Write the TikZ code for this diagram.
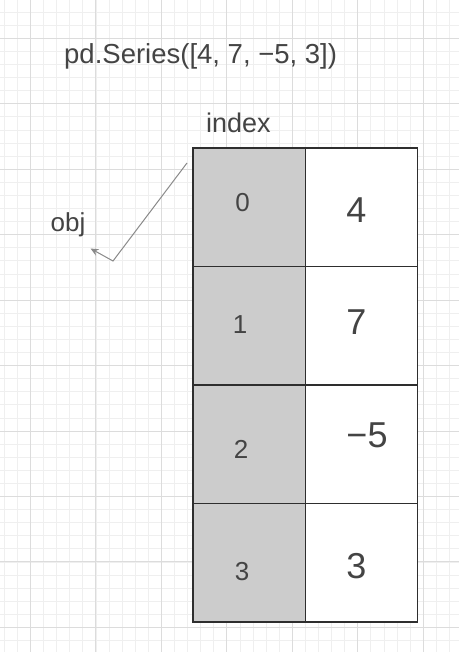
\documentclass[tikz,border=0pt]{standalone}
\usepackage{fontspec}
\setmainfont{Liberation Sans}
\usetikzlibrary{arrows.meta}
\definecolor{txt}{HTML}{444444}
\definecolor{gridminor}{HTML}{EFEFEF}
\definecolor{gridmajor}{HTML}{DCDCDC}
\definecolor{cellgray}{HTML}{CCCCCC}
\definecolor{cellline}{HTML}{2E2E2E}
\definecolor{arrowgray}{HTML}{8A8A8A}
\tikzset{
  minorline/.style={draw=gridminor, line width=0.8pt},
  majorline/.style={draw=gridmajor, line width=1pt},
  cell/.style={minimum width=112.5pt, minimum height=118.5pt, inner sep=0pt, outer sep=0pt},
  idxcell/.style={cell, fill=cellgray},
  valcell/.style={cell, fill=white},
  border/.style={draw=cellline, line width=1.4pt},
  lbl/.style={text=txt, inner sep=0pt, font=\fontsize{27.5}{32}\selectfont},
  idxnum/.style={text=txt, inner sep=0pt, font=\fontsize{26}{30}\selectfont},
  valnum/.style={text=txt, inner sep=0pt, font=\fontsize{36}{40}\selectfont},
  pointer/.style={draw=arrowgray, line width=1pt, -{Stealth[length=8pt,width=7pt]}}
}
\begin{document}
\begin{tikzpicture}[x=1pt,y=-1pt]
\useasboundingbox (0,0) rectangle (459,652);
\fill[white] (0,0) rectangle (459,652);
% grid
\foreach \i in {-3,...,33} {
  \draw[minorline] ({30.5+13.09*\i},0) -- ++(0,652);
}
\foreach \i in {-3,...,47} {
  \draw[minorline] (0,{38.3+13.09*\i}) -- ++(459,0);
}
\foreach \i in {-1,...,6} {
  \draw[majorline] ({30.5+65.45*\i},0) -- ++(0,652);
}
\foreach \i in {-1,...,9} {
  \draw[majorline] (0,{38.3+65.45*\i}) -- ++(459,0);
}
% title and labels
\node[lbl, anchor=base west] (title) at (64,63.3) {pd.Series([4, 7, −5, 3])};
\node[lbl, anchor=base west, font=\fontsize{27}{32}\selectfont] (index) at (206,132.3) {index};
\node[lbl, anchor=base west, font=\fontsize{26}{30}\selectfont] (obj) at (50.5,231) {obj};
% cells
\node[idxcell] (i0) at (249.25,207.25) {};
\node[idxcell] (i1) at (249.25,325.75) {};
\node[idxcell] (i2) at (249.25,444.25) {};
\node[idxcell] (i3) at (249.25,562.75) {};
\node[valcell] (v0) at (361.5,207.25) {};
\node[valcell] (v1) at (361.5,325.75) {};
\node[valcell] (v2) at (361.5,444.25) {};
\node[valcell] (v3) at (361.5,562.75) {};
\foreach \c in {i0,i1,i2,i3,v0,v1,v2,v3} {
  \draw[border] (\c.north west) rectangle (\c.south east);
}
% cell texts
\node[idxnum] (t0) at (242.5,203) {0};
\node[idxnum] (t1) at (240,325) {1};
\node[idxnum] (t2) at (241,449) {2};
\node[idxnum] (t3) at (242,571.7) {3};
\node[valnum] (w0) at (356.5,210) {4};
\node[valnum] (w1) at (356.5,322) {7};
\node[valnum] (w2) at (367,435) {−5};
\node[valnum] (w3) at (356.5,566) {3};
% pointer
\coordinate (pstart) at (187,163);
\coordinate (pbend) at (113,261);
\coordinate (ptip) at (90.5,248.5);
\draw[pointer] (pstart) -- (pbend) -- (ptip);
\end{tikzpicture}
\end{document}
